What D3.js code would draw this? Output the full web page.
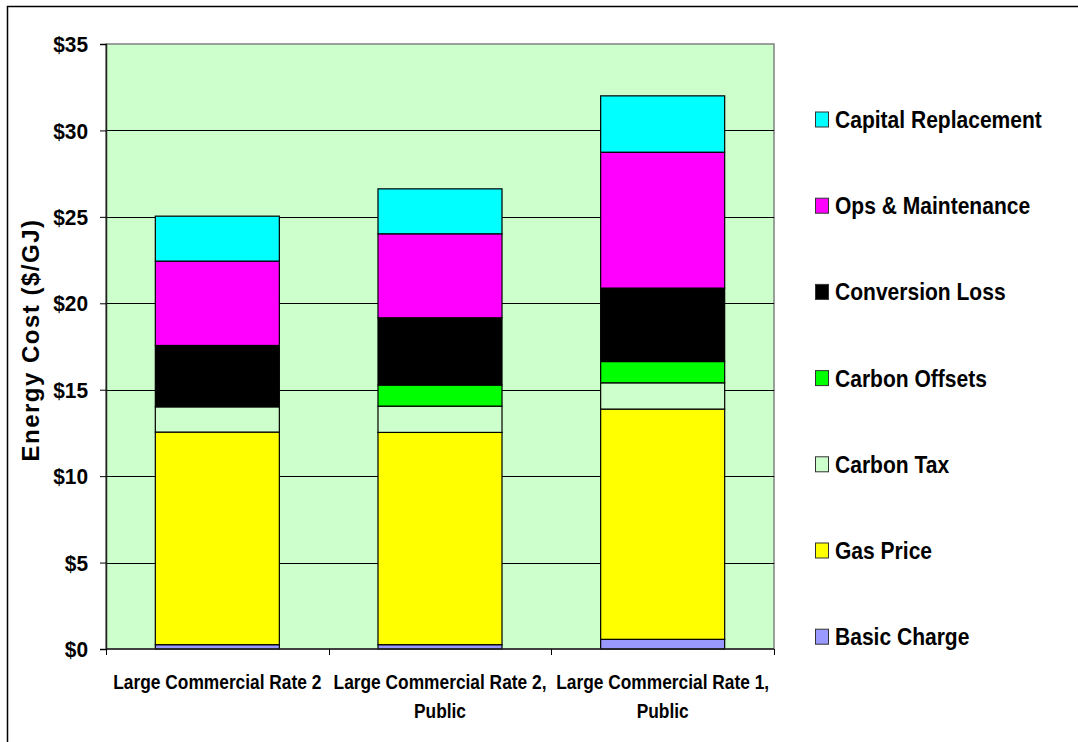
<!DOCTYPE html>
<html>
<head>
<meta charset="utf-8">
<script src="https://cdn.jsdelivr.net/npm/d3@7"></script>
<style>
  body { margin: 0; background: #fff; }
  text { font-family: "Liberation Sans", Arial, sans-serif; font-weight: bold; fill: #000; }
</style>
</head>
<body>
<div id="chart"></div>
<script>
// category labels (split on lines)
const categories = ["LC2", "LC2P", "LC1P"];
const categoryLines = [
  ["Large Commercial Rate 2"],
  ["Large Commercial Rate 2,", "Public"],
  ["Large Commercial Rate 1,", "Public"]
];

// cost components, bottom of stack first
const seriesNames = ["Basic Charge", "Gas Price", "Carbon Tax", "Carbon Offsets",
  "Conversion Loss", "Ops & Maintenance", "Capital Replacement"];
const seriesColors = ["#9999FF", "#FFFF00", "#CCFFCC", "#00FF00", "#000000", "#FF00FF", "#00FFFF"];

const basicCharge = [0.25, 0.25, 0.56];
const gasPrice = [12.30, 12.28, 13.32];
const carbonTax = [1.46, 1.52, 1.52];
const carbonOffsets = [0, 1.22, 1.23];
const conversionLoss = [3.55, 3.89, 4.25];
const opsMaintenance = [4.88, 4.86, 7.86];
const capitalReplacement = [2.60, 2.60, 3.26];

const yTicks = [0, 5, 10, 15, 20, 25, 30, 35];

const allSeries = [basicCharge, gasPrice, carbonTax, carbonOffsets,
  conversionLoss, opsMaintenance, capitalReplacement];

const rows = categories.map((c, i) => {
  const r = { cat: c };
  seriesNames.forEach((s, j) => { r[s] = allSeries[j][i]; });
  return r;
});

const W = 1078, H = 742;
const plot = { left: 106, right: 774, top: 44, bottom: 649 };

const svg = d3.select("#chart").append("svg")
  .attr("width", W)
  .attr("height", H);

// outer chart frame
svg.append("rect")
  .attr("x", 7.5).attr("y", 6.5)
  .attr("width", W).attr("height", H)
  .attr("fill", "#fff")
  .attr("stroke", "#000")
  .attr("stroke-width", 1.5);

const x = d3.scaleBand()
  .domain(categories)
  .range([plot.left, plot.right])
  .paddingInner(0.443)
  .paddingOuter(0.2215);

const y = d3.scaleLinear()
  .domain([0, 35])
  .range([plot.bottom, plot.top]);

const color = d3.scaleOrdinal().domain(seriesNames).range(seriesColors);

// plot background
svg.append("rect")
  .attr("x", plot.left).attr("y", plot.top)
  .attr("width", plot.right - plot.left)
  .attr("height", plot.bottom - plot.top)
  .attr("fill", "#CCFFCC")
  .attr("stroke", "#808080")
  .attr("stroke-width", 1.5);

// gridlines
svg.append("g")
  .selectAll("line")
  .data(yTicks.filter(t => t > 0 && t < 35))
  .join("line")
  .attr("x1", plot.left).attr("x2", plot.right)
  .attr("y1", d => Math.round(y(d)) + 0.5).attr("y2", d => Math.round(y(d)) + 0.5)
  .attr("stroke", "#000")
  .attr("stroke-width", 1);

// stacked bars
const stacked = d3.stack().keys(seriesNames)(rows);

svg.append("g")
  .selectAll("g")
  .data(stacked)
  .join("g")
  .attr("fill", d => color(d.key))
  .selectAll("rect")
  .data(d => d.filter(p => p[1] - p[0] > 0))
  .join("rect")
  .attr("x", d => x(d.data.cat))
  .attr("y", d => y(d[1]))
  .attr("width", x.bandwidth())
  .attr("height", d => y(d[0]) - y(d[1]))
  .attr("stroke", "#000")
  .attr("stroke-width", 1.2);

// y axis (labels slightly condensed like the original)
const tickSX = 0.95;
const yAxis = d3.axisLeft(y)
  .tickValues(yTicks)
  .tickSize(6)
  .tickFormat(d => "$" + d);

const yAxisGroup = svg.append("g")
  .attr("transform", `translate(${plot.left},0)`)
  .call(yAxis);
yAxisGroup.select(".domain").attr("stroke", "#222").attr("stroke-width", 1.5);
yAxisGroup.selectAll(".tick line").attr("stroke", "#000");
yAxisGroup.selectAll("text")
  .attr("font-size", 22)
  .attr("x", -18 / tickSX)
  .attr("dy", "0.35em")
  .attr("transform", `scale(${tickSX},1)`)
  .style("font-family", "'Liberation Sans', Arial, sans-serif")
  .style("font-weight", "bold");

// x axis: ticks at category boundaries
const boundaries = d3.range(categories.length + 1)
  .map(i => plot.left + i * x.step());
svg.append("line")
  .attr("x1", plot.left).attr("x2", plot.right)
  .attr("y1", plot.bottom).attr("y2", plot.bottom)
  .attr("stroke", "#222").attr("stroke-width", 1.5);
svg.append("g")
  .selectAll("line")
  .data(boundaries)
  .join("line")
  .attr("x1", d => Math.round(d) + 0.5).attr("x2", d => Math.round(d) + 0.5)
  .attr("y1", plot.bottom).attr("y2", plot.bottom + 6)
  .attr("stroke", "#000");

// category labels
const catLabels = svg.append("g")
  .selectAll("text")
  .data(categories)
  .join("text")
  .attr("text-anchor", "middle")
  .attr("font-size", 19.5)
  .attr("transform", d => `translate(${x(d) + x.bandwidth() / 2},689) scale(0.89,1)`);
catLabels.selectAll("tspan")
  .data((d, i) => categoryLines[i])
  .join("tspan")
  .attr("x", 0)
  .attr("dy", (d, i) => i === 0 ? 0 : 29)
  .text(d => d);

// y axis title
svg.append("text")
  .attr("transform", "translate(39,340) rotate(-90)")
  .attr("text-anchor", "middle")
  .attr("font-size", 24)
  .attr("letter-spacing", 1.5)
  .text("Energy Cost ($/GJ)");

// legend, top to bottom reversed from stack order
const legendItems = seriesNames.slice().reverse();
const legend = svg.append("g")
  .selectAll("g")
  .data(legendItems)
  .join("g")
  .attr("transform", (d, i) => `translate(815,${119.5 + i * 86.2})`);
legend.append("rect")
  .attr("x", 0.5).attr("y", -7.5)
  .attr("width", 13).attr("height", 15)
  .attr("fill", d => color(d))
  .attr("stroke", "#333")
  .attr("stroke-width", 1);
legend.append("text")
  .attr("transform", "translate(20,8.4) scale(0.895,1)")
  .attr("font-size", 23.5)
  .text(d => d);
</script>
</body>
</html>
